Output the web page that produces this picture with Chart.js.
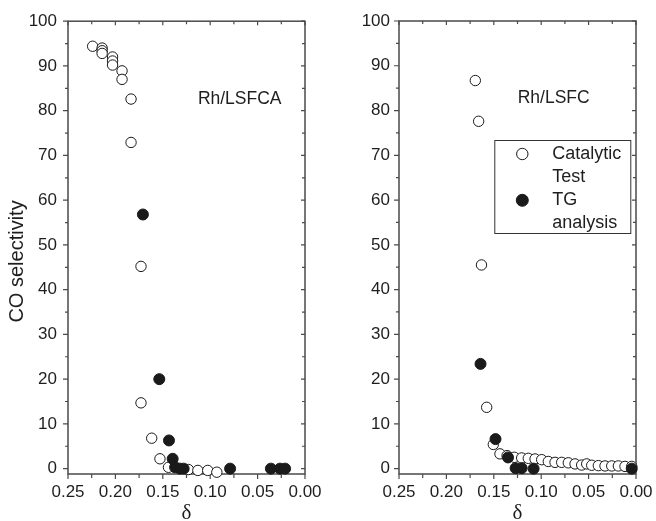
<!DOCTYPE html>
<html><head><meta charset="utf-8">
<script src="https://cdn.jsdelivr.net/npm/chart.js@4.4.1/dist/chart.umd.min.js"></script>
<style>
html,body{margin:0;padding:0;background:#fff;}
#wrap{position:relative;width:656px;height:521px;overflow:hidden;background:#fff;}
#cL{position:absolute;left:0;top:0;}
#cR{position:absolute;left:330px;top:0;}
</style></head><body>
<div id="wrap">
<canvas id="cL" width="330" height="521"></canvas>
<canvas id="cR" width="326" height="521"></canvas>
</div>
<script>
// ---- Data ----
const leftCatDelta = [0.224, 0.214, 0.214, 0.214, 0.203, 0.203, 0.203, 0.193, 0.193, 0.1835, 0.1835, 0.173, 0.173, 0.1617, 0.153, 0.144, 0.123, 0.113, 0.1026, 0.093];
const leftCatSel   = [94.4, 94.0, 93.4, 92.8, 92.0, 91.1, 90.2, 88.9, 87.0, 82.6, 72.9, 45.2, 14.7, 6.8, 2.2, 0.3, -0.2, -0.4, -0.4, -0.8];
const leftTgDelta  = [0.171, 0.1537, 0.1435, 0.1396, 0.137, 0.132, 0.128, 0.079, 0.036, 0.0264, 0.021];
const leftTgSel    = [56.8, 20.0, 6.3, 2.2, 0.3, 0.0, 0.0, 0.0, 0.0, 0.0, 0.0];

const rightCatDelta = [0.1695, 0.166, 0.163, 0.1575, 0.1505, 0.1435, 0.136, 0.1284, 0.1206, 0.1136, 0.1065, 0.0995, 0.0925, 0.0854, 0.0784, 0.0714, 0.0643, 0.0573, 0.052, 0.0467, 0.0397, 0.0327, 0.0256, 0.0186, 0.0116, 0.0045];
const rightCatSel   = [86.7, 77.6, 45.5, 13.7, 5.4, 3.3, 2.9, 2.53, 2.38, 2.3, 2.16, 2.0, 1.6, 1.4, 1.4, 1.3, 1.05, 0.8, 1.05, 0.75, 0.67, 0.6, 0.6, 0.6, 0.5, 0.5];
const rightTgDelta  = [0.164, 0.1482, 0.135, 0.127, 0.1206, 0.108, 0.0045];
const rightTgSel    = [23.4, 6.6, 2.5, 0.1, 0.1, 0.0, 0.0];

const seriesNames  = ["Catalytic Test", "TG analysis"];
const legendLines  = [["Catalytic", "Test"], ["TG", "analysis"]];
const panelLabels  = ["Rh/LSFCA", "Rh/LSFC"];
const panelLabelAt = [[0.113, 82.6], [0.1248, 82.7]];
const xMajor = [0, 0.05, 0.10, 0.15, 0.20, 0.25];
const xMinor = [0.025, 0.075, 0.125, 0.175, 0.225];
const yMajor = [0, 10, 20, 30, 40, 50, 60, 70, 80, 90, 100];
const yMinor = [5, 15, 25, 35, 45, 55, 65, 75, 85, 95];
const yTitle = "CO selectivity";
const xTitle = "δ";

// ---- Styles ----
const AXIS = '#4a4a4a';
const TEXT = '#1e1e1e';
Chart.defaults.font.family = '"Liberation Sans", Arial, sans-serif';
Chart.defaults.color = TEXT;

function pts(xs, ys){ return xs.map((x,i)=>({x:x, y:ys[i]})); }

const framePlugin = {
  id: 'frame',
  beforeDatasetsDraw(chart){
    const {ctx, chartArea:a, scales:{x, y}} = chart;
    ctx.save();
    ctx.strokeStyle = AXIS;
    ctx.lineWidth = 1.5;
    ctx.strokeRect(a.left, a.top, a.right - a.left, a.bottom - a.top);
    ctx.lineWidth = 1.2;
    ctx.beginPath();
    xMajor.forEach(v => { const p = x.getPixelForValue(v);
      ctx.moveTo(p, a.bottom); ctx.lineTo(p, a.bottom + 5);
      ctx.moveTo(p, a.top); ctx.lineTo(p, a.top + 4); });
    xMinor.forEach(v => { const p = x.getPixelForValue(v);
      ctx.moveTo(p, a.bottom); ctx.lineTo(p, a.bottom + 4);
      ctx.moveTo(p, a.top); ctx.lineTo(p, a.top + 3); });
    yMajor.forEach(v => { const p = y.getPixelForValue(v);
      ctx.moveTo(a.left, p); ctx.lineTo(a.left - 5, p);
      ctx.moveTo(a.right, p); ctx.lineTo(a.right - 4, p); });
    yMinor.forEach(v => { const p = y.getPixelForValue(v);
      ctx.moveTo(a.left, p); ctx.lineTo(a.left - 3, p);
      ctx.moveTo(a.right, p); ctx.lineTo(a.right - 3, p); });
    ctx.stroke();
    ctx.restore();
  }
};

const panelLabelPlugin = {
  id: 'panelLabel',
  afterDraw(chart, args, opts){
    const {ctx, scales:{x, y}} = chart;
    ctx.save();
    ctx.fillStyle = TEXT;
    ctx.font = '17.5px "Liberation Sans", Arial, sans-serif';
    ctx.textAlign = 'left';
    ctx.textBaseline = 'middle';
    ctx.fillText(opts.text, x.getPixelForValue(opts.at[0]), y.getPixelForValue(opts.at[1]));
    ctx.restore();
  }
};

const legendPlugin = {
  id: 'legendBox',
  afterDraw(chart, args, opts){
    if (!opts.show) return;
    const {ctx, chartArea:a} = chart;
    const W = 136, H = 93;
    const L = a.right - 5.7 - W, T = a.top + 119;
    ctx.save();
    ctx.fillStyle = '#fff';
    ctx.fillRect(L, T, W, H);
    ctx.strokeStyle = '#333';
    ctx.lineWidth = 1;
    ctx.strokeRect(L + 0.5, T + 0.5, W, H);
    chart.data.datasets.forEach((ds, i) => {
      const cy = T + 14 + i * 46.3;
      ctx.beginPath();
      ctx.arc(L + 28, cy, ds.pointRadius + 0.5, 0, Math.PI * 2);
      ctx.fillStyle = ds.backgroundColor; ctx.fill();
      ctx.lineWidth = ds.borderWidth; ctx.strokeStyle = ds.borderColor; ctx.stroke();
      ctx.fillStyle = TEXT;
      ctx.font = '18px "Liberation Sans", Arial, sans-serif';
      ctx.textAlign = 'left';
      ctx.textBaseline = 'middle';
      legendLines[i].forEach((t, j) => ctx.fillText(t, L + 58, cy + j * 23));
    });
    ctx.restore();
  }
};

function makeChart(id, catD, catS, tgD, tgS, idx){
  const isLeft = idx === 0;
  return new Chart(document.getElementById(id), {
    type: 'scatter',
    data: { datasets: [
      { label: seriesNames[0], data: pts(catD, catS), order: 1,
        pointRadius: 5.2, pointHoverRadius: 5.2, pointStyle: 'circle',
        backgroundColor: '#ffffff', borderColor: '#1a1a1a', borderWidth: 1, clip: false },
      { label: seriesNames[1], data: pts(tgD, tgS), order: 0,
        pointRadius: 5.5, pointHoverRadius: 5.5, pointStyle: 'circle',
        backgroundColor: '#1a1a1a', borderColor: '#1a1a1a', borderWidth: 1, clip: false }
    ]},
    options: {
      responsive: false, animation: false, events: [],
      layout: { padding: { top: 21, right: isLeft ? 25 : 20, bottom: 0, left: 0 } },
      plugins: {
        legend: { display: false }, tooltip: { enabled: false },
        panelLabel: { text: panelLabels[idx], at: panelLabelAt[idx] },
        legendBox: { show: !isLeft }
      },
      scales: {
        x: {
          type: 'linear', reverse: true, min: 0, max: 0.25,
          grid: { display: false, drawTicks: false }, border: { display: false },
          afterBuildTicks: s => { s.ticks = xMajor.map(v => ({ value: v })); },
          afterFit: s => { s.height = 47; },
          ticks: { padding: 8, color: TEXT, font: { size: 17 }, maxRotation: 0,
                   callback: v => Number(v).toFixed(2) },
          title: { display: true, text: xTitle, color: TEXT,
                   font: { family: '"Liberation Serif", "Times New Roman", serif', size: 21, lineHeight: 0.7 },
                   padding: { top: 0, bottom: 0 } }
        },
        y: {
          type: 'linear', min: -1.2, max: 100,
          grid: { display: false, drawTicks: false }, border: { display: false },
          afterBuildTicks: s => { s.ticks = yMajor.map(v => ({ value: v })); },
          afterFit: s => { s.width = isLeft ? 68 : 69; },
          ticks: { padding: isLeft ? 11 : 9, color: TEXT, font: { size: 17 } },
          title: { display: isLeft, text: yTitle + '     ', color: TEXT,
                   font: { size: 20 }, padding: { top: 5, bottom: 0 } }
        }
      }
    },
    plugins: [framePlugin, panelLabelPlugin, legendPlugin]
  });
}

makeChart('cL', leftCatDelta, leftCatSel, leftTgDelta, leftTgSel, 0);
makeChart('cR', rightCatDelta, rightCatSel, rightTgDelta, rightTgSel, 1);
</script>
</body></html>
